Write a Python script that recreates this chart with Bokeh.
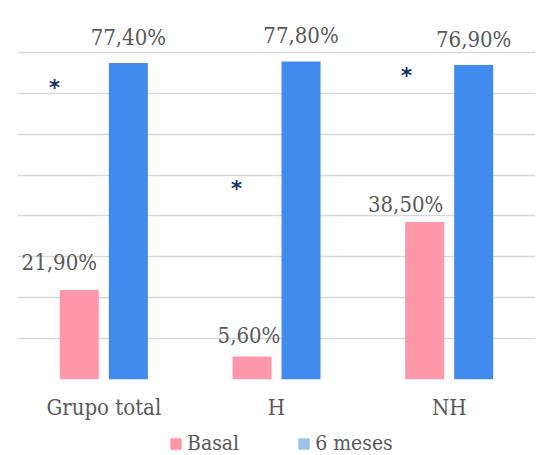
from bokeh.plotting import figure
from bokeh.layouts import column
from bokeh.models import (ColumnDataSource, FactorRange, Range1d, Legend, LegendItem,
                          FixedTicker)
from bokeh.transform import dodge
from bokeh.core.properties import value
from bokeh.embed import file_html
from bokeh.resources import INLINE

# Data
groups = ["Grupo total", "H", "NH"]
basal = [21.9, 5.6, 38.5]
meses6 = [77.4, 77.8, 76.9]
basal_labels = ["21,90%", "5,60%", "38,50%"]
meses6_labels = ["77,40%", "77,80%", "76,90%"]

# significance markers (x shift within group, height in %)
star_shift = [-0.286, -0.232, -0.247]
star_y = [71.7, 47.2, 74.6]

PINK = "#FF97AA"
BLUE = "#418BEE"
BLUE_LEGEND = "#9DC3E6"
STAR = "#16306B"
TEXT = "#595959"
FONT = "DejaVu Serif Condensed"

p = figure(width=541, height=423, x_range=FactorRange(*groups, range_padding=0),
           y_range=Range1d(0, 90), output_backend="svg", toolbar_location=None,
           min_border_left=17, min_border_right=6, min_border_top=11,
           min_border_bottom=44)
p.outline_line_color = None
p.background_fill_color = "white"
p.border_fill_color = "white"

src = ColumnDataSource(dict(g=groups, basal=basal, m6=meses6,
                            bl=basal_labels, ml=meses6_labels,
                            bdx=[-20, -3, -19], bdy=[-27, -21, -18]))

p.vbar(x=dodge("g", -0.142, range=p.x_range), top="basal", width=0.226,
       source=src, color=PINK, line_color=None)
p.vbar(x=dodge("g", 0.142, range=p.x_range), top="m6", width=0.226,
       source=src, color=BLUE, line_color=None)

# value labels
p.text(x=dodge("g", -0.142, range=p.x_range), y="basal", text="bl", source=src,
       x_offset="bdx", y_offset="bdy", text_align="center",
       text_baseline="alphabetic", text_font=value(FONT),
       text_font_size="22px", text_color=TEXT)
p.text(x=dodge("g", 0.142, range=p.x_range), y="m6", text="ml", source=src,
       y_offset=-26, text_align="center", text_baseline="alphabetic",
       text_font=value(FONT), text_font_size="22px", text_color=TEXT)

# asterisks
for i, g in enumerate(groups):
    p.text(x=dodge("g", star_shift[i], range=p.x_range), y="y", text="t",
           source=ColumnDataSource(dict(g=[g], y=[star_y[i]], t=["*"])),
           text_align="center", text_baseline="middle", y_offset=2,
           text_font=value("DejaVu Sans"), text_font_style="bold",
           text_font_size="21px", text_color=STAR)

# grid
p.ygrid.ticker = FixedTicker(ticks=list(range(0, 91, 10)))
p.ygrid.grid_line_color = "#D9D9D9"
p.ygrid.grid_line_width = 1.5
p.xgrid.grid_line_color = None
p.yaxis.visible = False

ax = p.xaxis[0]
ax.axis_line_color = None
ax.major_tick_line_color = None
ax.minor_tick_line_color = None
ax.major_tick_out = 0
ax.major_label_standoff = 15
ax.major_label_text_font = FONT
ax.major_label_text_font_size = "22px"
ax.major_label_text_color = TEXT

# legend strip below the chart
lg = figure(width=541, height=32, x_range=Range1d(0, 1), y_range=Range1d(0, 1),
            output_backend="svg", toolbar_location=None,
            min_border=0, outline_line_color=None)
lg.axis.visible = False
lg.grid.visible = False
swatch = ColumnDataSource(dict(x=[-5], top=[-5], bottom=[-6]))
r1 = lg.vbar(x="x", top="top", bottom="bottom", width=0.1, source=swatch, color=PINK)
r2 = lg.vbar(x="x", top="top", bottom="bottom", width=0.1, source=swatch,
             color=BLUE_LEGEND)
legend = Legend(items=[LegendItem(label="Basal", renderers=[r1]),
                       LegendItem(label="6 meses", renderers=[r2])],
                orientation="horizontal", location=(152, 0),
                glyph_width=13, glyph_height=13, label_standoff=5, spacing=58,
                padding=0, margin=0, border_line_color=None,
                background_fill_alpha=0, label_text_font=FONT,
                label_text_font_size="21px", label_text_color=TEXT)
lg.add_layout(legend)

open("out.html", "w").write(file_html(column(p, lg, spacing=0), INLINE))
